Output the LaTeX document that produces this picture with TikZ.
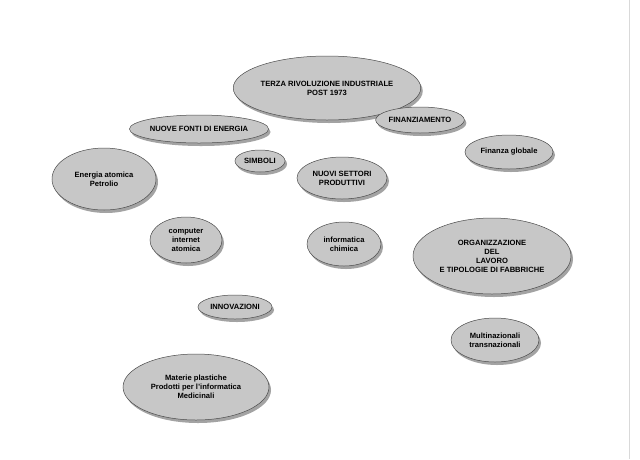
\documentclass[tikz,border=0pt]{standalone}
\usepackage{fontspec}
\setmainfont{Liberation Sans}
\usetikzlibrary{shapes.geometric,shadows,backgrounds}
\begin{document}
\begin{tikzpicture}[x=1pt,y=-1pt,
  el/.style={ellipse,draw=black!70,line width=0.5pt,fill=black!22,inner sep=0pt,
    drop shadow={shadow xshift=2pt,shadow yshift=-3pt,fill=black!45,opacity=0.8},
    font=\fontsize{7.6}{9}\selectfont\bfseries,align=center},
  ln/.style={draw=black!45,line width=0.5pt}]
\useasboundingbox[fill=white] (0,0) rectangle (640,459);
\draw[black!15] (629,0) -- (629,459);
\node[el,minimum width=182,minimum height=64] (top) at (327,88) {TERZA RIVOLUZIONE INDUSTRIALE\\POST 1973};
\node[el,minimum width=134,minimum height=28] (fonti) at (199,129) {NUOVE FONTI DI ENERGIA};
\node[el,minimum width=88,minimum height=26] (fin) at (420,120) {FINANZIAMENTO};
\node[el,minimum width=88,minimum height=34] (fg) at (509,152) {Finanza globale};
\node[el,minimum width=104,minimum height=62] (en) at (104,179) {Energia atomica\\Petrolio};
\node[el,minimum width=50,minimum height=22] (sim) at (260,161) {SIMBOLI};
\node[el,minimum width=90,minimum height=42] (set) at (342,178) {NUOVI SETTORI\\PRODUTTIVI};
\node[el,minimum width=72,minimum height=46] (comp) at (186,240) {computer\\internet\\atomica};
\node[el,minimum width=74,minimum height=44] (inf) at (344,244) {informatica\\chimica};
\node[el,minimum width=158,minimum height=76] (org) at (492,256) {ORGANIZZAZIONE\\DEL\\LAVORO\\E TIPOLOGIE DI FABBRICHE};
\node[el,minimum width=74,minimum height=24] (inn) at (235,307) {INNOVAZIONI};
\node[el,minimum width=88,minimum height=44] (mul) at (495,340) {Multinazionali\\transnazionali};
\node[el,minimum width=146,minimum height=66] (mat) at (196,387) {Materie plastiche\\Prodotti per l'informatica\\Medicinali};
\begin{scope}[on background layer]
\draw[ln] (top) -- (fonti);
\draw[ln] (top) -- (fin);
\draw[ln] (fin) -- (fg);
\draw[ln] (fonti) -- (en);
\draw[ln] (top) -- (sim);
\draw[ln] (sim) -- (comp);
\draw[ln] (top) -- (set);
\draw[ln] (set) -- (inf);
\draw[ln] (top) -- (inn);
\draw[ln] (inn) -- (mat);
\draw[ln] (top) -- (org);
\draw[ln] (org) -- (mul);
\end{scope}
\end{tikzpicture}
\end{document}
